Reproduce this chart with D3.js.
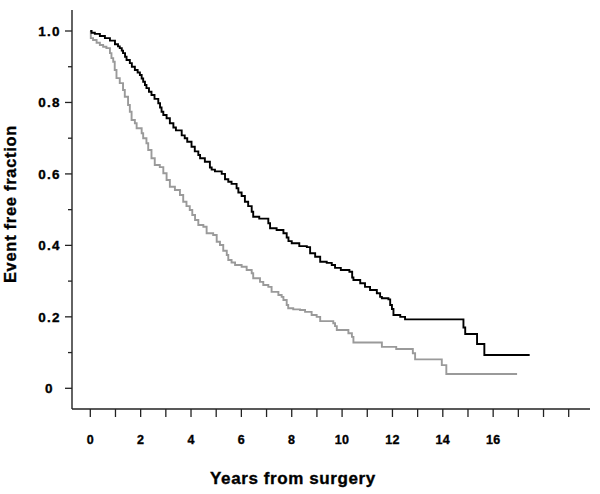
<!DOCTYPE html>
<html>
<head>
<meta charset="utf-8">
<script src="https://cdn.jsdelivr.net/npm/d3@7"></script>
<style>
  html, body { margin: 0; padding: 0; background: #fff; }
  svg { display: block; }
  text { font-family: "Liberation Sans", Arial, sans-serif; font-weight: bold; fill: #000; stroke: #000; stroke-width: 0.35px; }
</style>
</head>
<body>
<svg id="chart" width="600" height="494"></svg>
<script>
// ---- Data ----
const blackTimes = [0, 0.05, 0.18, 0.38, 0.58, 0.78, 0.98, 1.10, 1.17, 1.25, 1.30, 1.38, 1.44, 1.57, 1.65, 1.77, 1.88, 1.97, 2.04, 2.10, 2.17, 2.23, 2.33, 2.43, 2.55, 2.70, 2.77, 2.83, 2.90, 3.03, 3.16, 3.30, 3.40, 3.63, 3.75, 3.85, 4.02, 4.15, 4.29, 4.36, 4.55, 4.75, 4.82, 4.95, 5.22, 5.35, 5.48, 5.61, 5.81, 5.88, 6.01, 6.14, 6.27, 6.41, 6.47, 6.71, 7.07, 7.14, 7.40, 7.67, 7.80, 7.87, 8.00, 8.30, 8.60, 8.73, 8.93, 9.13, 9.39, 9.59, 9.72, 9.95, 10.29, 10.40, 10.45, 10.72, 10.91, 11.11, 11.38, 11.51, 11.58, 11.84, 11.91, 11.98, 12.04, 12.31, 12.50, 14.82, 14.89, 15.36, 15.65, 17.45];
const blackSurv  = [1.000, 0.995, 0.992, 0.986, 0.980, 0.973, 0.963, 0.957, 0.952, 0.945, 0.938, 0.928, 0.919, 0.910, 0.900, 0.891, 0.884, 0.877, 0.867, 0.858, 0.849, 0.840, 0.830, 0.821, 0.810, 0.798, 0.786, 0.774, 0.765, 0.756, 0.742, 0.730, 0.722, 0.708, 0.700, 0.690, 0.676, 0.663, 0.653, 0.644, 0.634, 0.618, 0.612, 0.607, 0.600, 0.585, 0.578, 0.572, 0.560, 0.548, 0.538, 0.522, 0.510, 0.494, 0.480, 0.475, 0.462, 0.448, 0.443, 0.434, 0.422, 0.412, 0.406, 0.398, 0.395, 0.378, 0.368, 0.354, 0.351, 0.345, 0.337, 0.331, 0.326, 0.310, 0.303, 0.294, 0.284, 0.275, 0.266, 0.256, 0.252, 0.249, 0.233, 0.222, 0.205, 0.200, 0.193, 0.170, 0.152, 0.124, 0.093, 0.093];

const grayTimes = [0, 0.02, 0.11, 0.25, 0.38, 0.51, 0.64, 0.78, 0.84, 0.91, 0.97, 1.04, 1.17, 1.30, 1.37, 1.50, 1.57, 1.64, 1.77, 1.84, 2.04, 2.10, 2.23, 2.30, 2.43, 2.56, 2.76, 2.90, 3.03, 3.16, 3.36, 3.56, 3.69, 3.82, 3.95, 4.05, 4.16, 4.29, 4.49, 4.62, 4.88, 5.02, 5.15, 5.28, 5.42, 5.48, 5.61, 5.75, 6.01, 6.21, 6.41, 6.47, 6.74, 6.87, 7.07, 7.20, 7.47, 7.60, 7.67, 7.80, 7.86, 8.06, 8.33, 8.53, 8.79, 8.99, 9.13, 9.65, 9.72, 9.79, 10.25, 10.39, 10.45, 11.58, 12.15, 12.81, 12.90, 13.96, 14.14, 16.95];
const graySurv  = [1.000, 0.980, 0.975, 0.967, 0.961, 0.956, 0.952, 0.938, 0.924, 0.914, 0.891, 0.868, 0.854, 0.835, 0.816, 0.793, 0.774, 0.751, 0.742, 0.728, 0.714, 0.700, 0.686, 0.667, 0.644, 0.625, 0.619, 0.602, 0.583, 0.564, 0.555, 0.541, 0.522, 0.510, 0.499, 0.485, 0.471, 0.457, 0.452, 0.434, 0.429, 0.410, 0.401, 0.385, 0.373, 0.359, 0.352, 0.345, 0.340, 0.331, 0.322, 0.308, 0.298, 0.289, 0.284, 0.270, 0.261, 0.256, 0.247, 0.233, 0.224, 0.221, 0.219, 0.214, 0.205, 0.200, 0.188, 0.182, 0.174, 0.163, 0.154, 0.144, 0.128, 0.116, 0.110, 0.098, 0.081, 0.065, 0.040, 0.040];

const xTicks = d3.range(0, 20);                 // tick marks 0..19
const xTickLabels = [0, 2, 4, 6, 8, 10, 12, 14, 16];
const yMajor = [0, 0.2, 0.4, 0.6, 0.8, 1.0];
const yMinor = [0.1, 0.3, 0.5, 0.7, 0.9];
const yLabels = ["0", "0.2", "0.4", "0.6", "0.8", "1.0"];

// ---- Layout ----
const svg = d3.select("#chart");
const x = d3.scaleLinear().domain([0, 19]).range([90.3, 568.7]);
const y = d3.scaleLinear().domain([0, 1]).range([388.3, 31]);
const axisX = 72, axisY = 409;

const g = svg.append("g");

// axis lines
g.append("line").attr("x1", axisX).attr("x2", axisX).attr("y1", 10).attr("y2", axisY)
  .attr("stroke", "#222").attr("stroke-width", 1.4);
g.append("line").attr("x1", axisX).attr("x2", 590).attr("y1", axisY).attr("y2", axisY)
  .attr("stroke", "#222").attr("stroke-width", 1.4);

// y ticks
g.selectAll(".ymaj").data(yMajor).join("line")
  .attr("x1", axisX - 7).attr("x2", axisX)
  .attr("y1", d => y(d)).attr("y2", d => y(d))
  .attr("stroke", "#222").attr("stroke-width", 1.3);
g.selectAll(".ymin").data(yMinor).join("line")
  .attr("x1", axisX - 4).attr("x2", axisX)
  .attr("y1", d => y(d)).attr("y2", d => y(d))
  .attr("stroke", "#222").attr("stroke-width", 1.3);
g.selectAll(".ylab").data(yMajor).join("text")
  .attr("x", 49.5).attr("y", d => y(d) + 4.7)
  .attr("text-anchor", "middle")
  .style("font-size", "13.5px").style("letter-spacing", "1.3px")
  .text((d, i) => yLabels[i]);

// x ticks
g.selectAll(".xt").data(xTicks).join("line")
  .attr("x1", d => x(d)).attr("x2", d => x(d))
  .attr("y1", axisY).attr("y2", axisY + 8)
  .attr("stroke", "#222").attr("stroke-width", 1.3);
g.selectAll(".xlab").data(xTickLabels).join("text")
  .attr("x", d => x(d)).attr("y", 443.5)
  .attr("text-anchor", "middle")
  .style("font-size", "12.5px").style("letter-spacing", "0.3px")
  .text(d => d);

// axis titles
g.append("text").attr("x", 293).attr("y", 484)
  .attr("text-anchor", "middle")
  .style("font-size", "17px").style("letter-spacing", "0.6px")
  .text("Years from surgery");
g.append("text")
  .attr("transform", "translate(16,204) rotate(-90)")
  .attr("text-anchor", "middle")
  .style("font-size", "16.5px").style("letter-spacing", "0.7px")
  .text("Event free fraction");

// curves
const line = d3.line()
  .x(d => x(d[0])).y(d => y(d[1]))
  .curve(d3.curveStepAfter);
const black = blackTimes.map((t, i) => [t, blackSurv[i]]);
const gray = grayTimes.map((t, i) => [t, graySurv[i]]);

g.append("path").datum(gray).attr("d", line)
  .attr("fill", "none").attr("stroke", "#9a9a9a").attr("stroke-width", 1.9);
g.append("path").datum(black).attr("d", line)
  .attr("fill", "none").attr("stroke", "#000").attr("stroke-width", 1.9);
</script>
</body>
</html>
